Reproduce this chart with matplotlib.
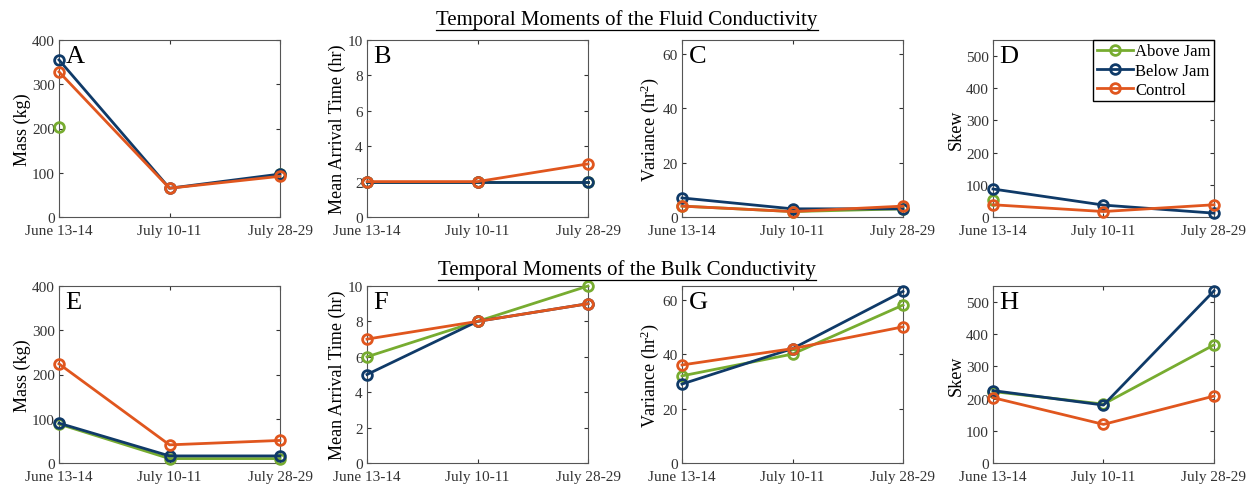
import numpy as np
import matplotlib
matplotlib.use("Agg")
import matplotlib.pyplot as plt
from matplotlib.lines import Line2D

plt.rcParams['font.family'] = ['Liberation Serif', 'DejaVu Serif']
plt.rcParams['mathtext.fontset'] = 'stix'
plt.rcParams['mathtext.default'] = 'regular'

dates = ['June 13-14', 'July 10-11', 'July 28-29']
groups = ['Above Jam', 'Below Jam', 'Control']
colors = {'Above Jam': '#77AC30', 'Below Jam': '#0F3A68', 'Control': '#E0561E'}
nan = np.nan

# fluid conductivity moments
fluid_mass = {'Above Jam': [204, nan, 97], 'Below Jam': [355, 65, 97], 'Control': [328, 65, 92]}
fluid_mean = {'Above Jam': [2, 2, 2], 'Below Jam': [2, 2, 2], 'Control': [2, 2, 3]}
fluid_var = {'Above Jam': [4, 2, 3], 'Below Jam': [7, 3, 3], 'Control': [4, 2, 4]}
fluid_skew = {'Above Jam': [53, nan, nan], 'Below Jam': [87, 37, 12], 'Control': [38, 17, 38]}

# bulk conductivity moments
bulk_mass = {'Above Jam': [88, 10, 10], 'Below Jam': [90, 16, 16], 'Control': [224, 41, 51]}
bulk_mean = {'Above Jam': [6, 8, 10], 'Below Jam': [5, 8, 9], 'Control': [7, 8, 9]}
bulk_var = {'Above Jam': [32, 40, 58], 'Below Jam': [29, 42, 63], 'Control': [36, 42, 50]}
bulk_skew = {'Above Jam': [222, 183, 367], 'Below Jam': [225, 180, 535], 'Control': [203, 120, 208]}

panels = [
    ('A', fluid_mass, 'Mass (kg)', (0, 400), [0, 100, 200, 300, 400]),
    ('B', fluid_mean, 'Mean Arrival Time (hr)', (0, 10), [0, 2, 4, 6, 8, 10]),
    ('C', fluid_var, 'Variance (hr$^{2}$)', (0, 65), [0, 20, 40, 60]),
    ('D', fluid_skew, 'Skew', (0, 550), [0, 100, 200, 300, 400, 500]),
    ('E', bulk_mass, 'Mass (kg)', (0, 400), [0, 100, 200, 300, 400]),
    ('F', bulk_mean, 'Mean Arrival Time (hr)', (0, 10), [0, 2, 4, 6, 8, 10]),
    ('G', bulk_var, 'Variance (hr$^{2}$)', (0, 65), [0, 20, 40, 60]),
    ('H', bulk_skew, 'Skew', (0, 550), [0, 100, 200, 300, 400, 500]),
]

W, H = 1251, 489
fig = plt.figure(figsize=(W / 100, H / 100), dpi=100)

lefts = [59, 367, 682, 993]
width = 221
tops = [41, 287]
height = 177

x = np.arange(len(dates))
axes = []
for i, (letter, data, ylabel, ylim, yticks) in enumerate(panels):
    row, col = divmod(i, 4)
    ax = fig.add_axes([lefts[col] / W, 1 - (tops[row] + height) / H, width / W, height / H])
    for g in groups:
        ax.plot(x, data[g], '-o', color=colors[g], lw=2, ms=7, mfc='none', mew=2,
                clip_on=False, label=g, zorder=3)
    ax.set_xlim(0, 2)
    ax.set_ylim(*ylim)
    ax.set_yticks(yticks)
    ax.set_xticks(x)
    ax.set_xticklabels(dates)
    ax.set_ylabel(ylabel, fontsize=13, labelpad=1)
    ax.tick_params(direction='in', top=True, right=True, labelsize=11,
                   colors='#333333', length=3)
    ax.tick_params(axis='x', pad=5)
    ax.tick_params(axis='y', pad=3)
    for s in ax.spines.values():
        s.set_color('#555555')
        s.set_linewidth(0.8)
    ax.text(0.03, 0.97, letter, transform=ax.transAxes, fontsize=19,
            ha='left', va='top', color='black')
    axes.append(ax)

axes[3].legend(loc='upper right', fontsize=12, frameon=True, fancybox=False,
               edgecolor='black', framealpha=1, borderpad=0.2, handlelength=2.2,
               handletextpad=0.1, labelspacing=0.2, borderaxespad=0)

# underlined row headings
headings = [('Temporal Moments of the Fluid Conductivity', 20),
            ('Temporal Moments of the Bulk Conductivity', 270)]
fig.canvas.draw()
renderer = fig.canvas.get_renderer()
for text, ypix in headings:
    t = fig.text(627 / W, 1 - ypix / H, text, fontsize=15, ha='center', va='center')
    bb = t.get_window_extent(renderer)
    yline = (bb.y0 - 1) / H
    fig.add_artist(Line2D([bb.x0 / W, bb.x1 / W], [yline, yline],
                          color='black', lw=0.9, transform=fig.transFigure))

fig.savefig('out.png', dpi=100)
